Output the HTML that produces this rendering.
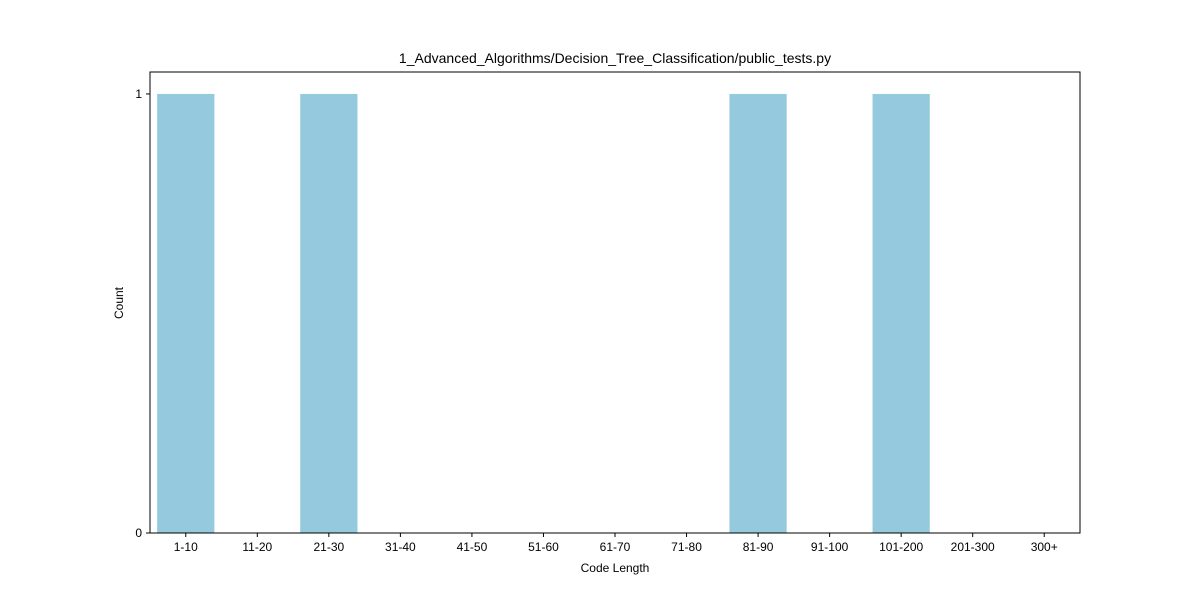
<!DOCTYPE html>
<html><head><meta charset="utf-8"><style>
body{margin:0;background:#fff;}
svg{display:block;font-family:"Liberation Sans","DejaVu Sans",sans-serif;}
</style></head><body>
<svg id="chart" width="1200" height="600">
<rect width="1200" height="600" fill="#fff"/>
<text x="615" y="63" text-anchor="middle" font-size="14">1_Advanced_Algorithms/Decision_Tree_Classification/public_tests.py</text>
<text x="615" y="572" text-anchor="middle" font-size="12">Code Length</text>
<text transform="translate(123,303) rotate(-90)" text-anchor="middle" font-size="12">Count</text>
<g id="bars"></g><g id="xticks"></g><g id="yticks"></g>
<rect x="150" y="72" width="930" height="461" fill="none" stroke="#000" stroke-width="1"/>
</svg>
<script>
const categories=["1-10","11-20","21-30","31-40","41-50","51-60","61-70","71-80","81-90","91-100","101-200","201-300","300+"];
const counts=[1,0,1,0,0,0,0,0,1,0,1,0,0];
const yTicks=[0,1];
const L=150,R=1080,T=72,B=533,yMax=1.05;
const ns="http://www.w3.org/2000/svg";
const bw=(R-L)/categories.length;
const xC=i=>L+(i+0.5)*bw;
const y=v=>B-(v/yMax)*(B-T);
const bars=document.getElementById('bars'),xt=document.getElementById('xticks'),yt=document.getElementById('yticks');
categories.forEach((c,i)=>{
  const r=document.createElementNS(ns,'rect');
  r.setAttribute('x',xC(i)-bw*0.4);r.setAttribute('width',bw*0.8);
  r.setAttribute('y',y(counts[i]));r.setAttribute('height',B-y(counts[i]));
  r.setAttribute('fill','#95c9dd');
  
  
  bars.appendChild(r);
  const l=document.createElementNS(ns,'line');
  l.setAttribute('x1',xC(i));l.setAttribute('x2',xC(i));l.setAttribute('y1',B);l.setAttribute('y2',B+4);l.setAttribute('stroke','#000');
  
  
  xt.appendChild(l);
  const t=document.createElementNS(ns,'text');
  t.setAttribute('x',xC(i));t.setAttribute('y',B+18);t.setAttribute('text-anchor','middle');t.setAttribute('font-size','12');
  t.textContent=c;
  
  
  xt.appendChild(t);
});
yTicks.forEach(v=>{
  const l=document.createElementNS(ns,'line');
  l.setAttribute('x1',L-4);l.setAttribute('x2',L);l.setAttribute('y1',y(v));l.setAttribute('y2',y(v));l.setAttribute('stroke','#000');
  
  
  yt.appendChild(l);
  const t=document.createElementNS(ns,'text');
  t.setAttribute('x',L-8);t.setAttribute('y',y(v)+4);t.setAttribute('text-anchor','end');t.setAttribute('font-size','12');
  t.textContent=v;
  
  
  yt.appendChild(t);
});
</script>
</body></html>
